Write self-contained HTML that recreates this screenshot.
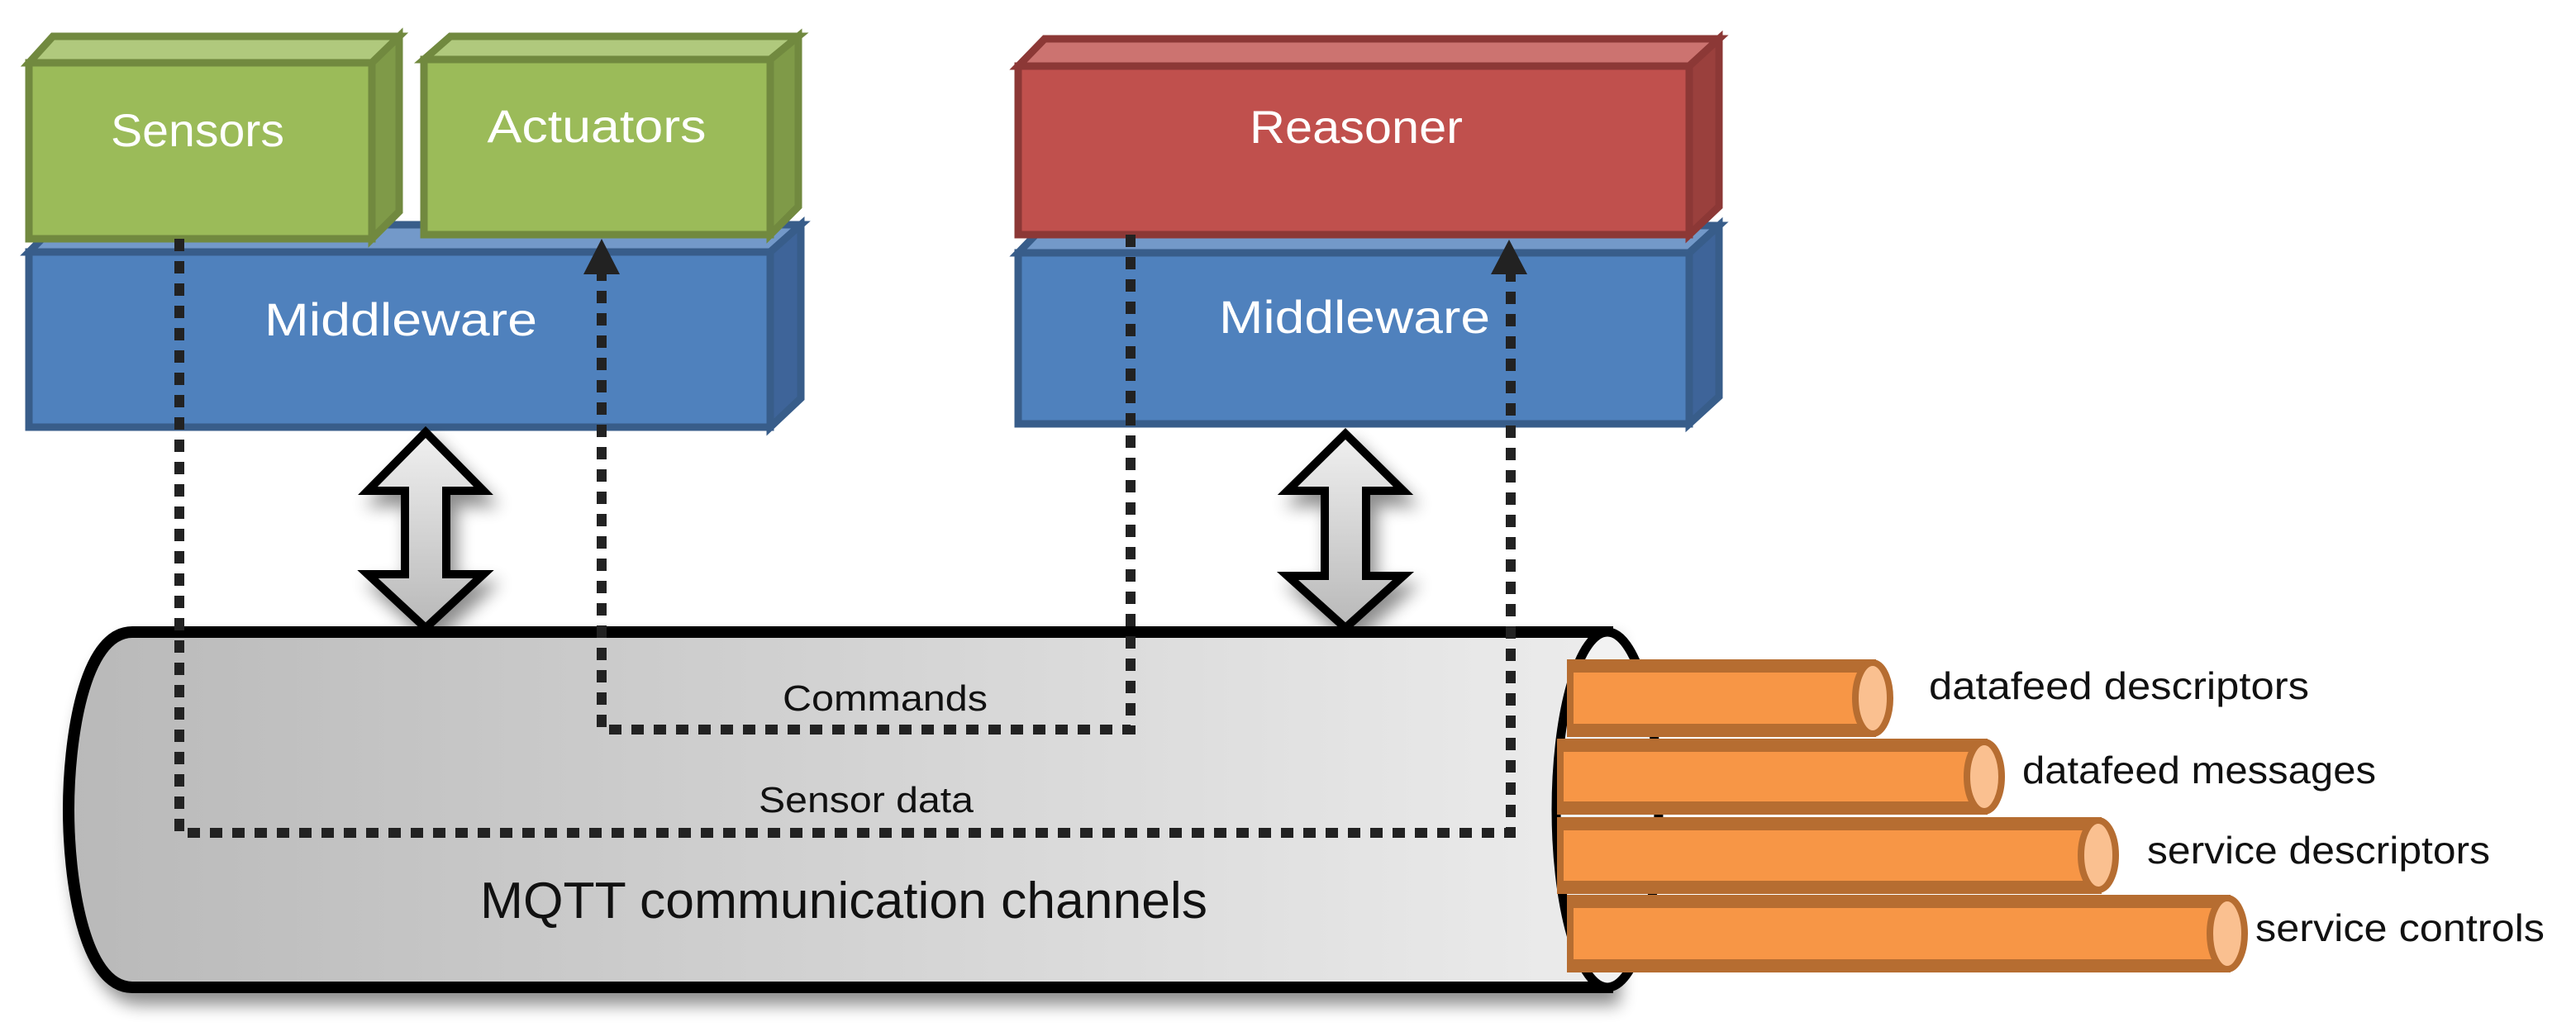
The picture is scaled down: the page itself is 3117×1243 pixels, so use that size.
<!DOCTYPE html>
<html><head><meta charset="utf-8"><style>html,body{margin:0;padding:0;background:#fff}svg{display:block}</style></head>
<body>
<svg width="3117" height="1243" viewBox="0 0 3117 1243" xmlns="http://www.w3.org/2000/svg" font-family="Liberation Sans, sans-serif">
<defs>
<linearGradient id="cyl" x1="0" x2="1" y1="0" y2="0"><stop offset="0" stop-color="#b9b9b9"/><stop offset="1" stop-color="#ececec"/></linearGradient>
<linearGradient id="arr" x1="0" x2="0" y1="0" y2="1"><stop offset="0" stop-color="#f0f0f0"/><stop offset="1" stop-color="#b8b8b8"/></linearGradient>
<filter id="sh" x="-10%" y="-10%" width="130%" height="130%"><feGaussianBlur in="SourceAlpha" stdDeviation="10"/><feOffset dx="8" dy="14"/><feComponentTransfer><feFuncA type="linear" slope="0.45"/></feComponentTransfer><feMerge><feMergeNode/><feMergeNode in="SourceGraphic"/></feMerge></filter>
</defs>

<g stroke-width="9" stroke-linejoin="miter">
<polygon points="35,305 68,272 969,272 932,305" fill="#7399c9" stroke="#385d8a"/>
<polygon points="932,305 969,272 969,482 932,517" fill="#3e6499" stroke="#385d8a"/>
<rect x="35" y="305" width="897" height="212" fill="#4f81bd" stroke="#385d8a"/>
<polygon points="35,76 64,44 483,44 450,76" fill="#b0c97d" stroke="#71893f"/>
<polygon points="450,76 483,44 483,256 450,289" fill="#7f9a48" stroke="#71893f"/>
<rect x="35" y="76" width="415" height="213" fill="#9bbb59" stroke="#71893f"/>
<polygon points="513,72 545,44 966,44 932,72" fill="#b0c97d" stroke="#71893f"/>
<polygon points="932,72 966,44 966,250 932,284" fill="#7f9a48" stroke="#71893f"/>
<rect x="513" y="72" width="419" height="212" fill="#9bbb59" stroke="#71893f"/>
<polygon points="1232,306 1264,273 2080,273 2044,306" fill="#7399c9" stroke="#385d8a"/>
<polygon points="2044,306 2080,273 2080,480 2044,513" fill="#3e6499" stroke="#385d8a"/>
<rect x="1232" y="306" width="812" height="207" fill="#4f81bd" stroke="#385d8a"/>
<polygon points="1232,80 1264,47 2080,47 2044,80" fill="#cc7370" stroke="#8c3836"/>
<polygon points="2044,80 2080,47 2080,250 2044,284" fill="#9a403d" stroke="#8c3836"/>
<rect x="1232" y="80" width="812" height="204" fill="#c0504d" stroke="#8c3836"/>
</g>
<g fill="#fff" font-size="56" text-anchor="middle">
<text x="239" y="177" textLength="210" lengthAdjust="spacingAndGlyphs">Sensors</text>
<text x="722" y="172" textLength="265" lengthAdjust="spacingAndGlyphs">Actuators</text>
<text x="485" y="406" textLength="330" lengthAdjust="spacingAndGlyphs">Middleware</text>
<text x="1641" y="173" textLength="258" lengthAdjust="spacingAndGlyphs">Reasoner</text>
<text x="1639" y="403" textLength="328" lengthAdjust="spacingAndGlyphs">Middleware</text>
</g>

<g filter="url(#sh)" fill="url(#arr)" stroke="#000" stroke-width="10" stroke-linejoin="miter">
<polygon points="515,523 585,594 540,594 540,695 585,695 515,760 445,695 490,695 490,594 445,594"/>
<polygon points="1628,525 1698,594 1653,594 1653,697 1698,697 1628,760 1558,697 1603,697 1603,594 1558,594"/>
</g>

<g filter="url(#sh)">
<path d="M160,765 H1945 V1195 H160 C100,1195 83,1060 83,980 C83,900 100,765 160,765 Z" fill="url(#cyl)" stroke="#000" stroke-width="14"/>
</g>
<ellipse cx="1945" cy="980" rx="62" ry="215" fill="#f2f2f2" stroke="#000" stroke-width="11"/>

<g stroke="#b66d31" stroke-width="8">
<rect x="1900" y="802" width="366" height="86" fill="#f79646"/>
<rect x="1888" y="898" width="513" height="84" fill="#f79646"/>
<rect x="1888" y="993" width="651" height="85" fill="#f79646"/>
<rect x="1900" y="1087" width="795" height="86" fill="#f79646"/>
</g>
<g fill="#b66d31">
<rect x="1900" y="802" width="366" height="12"/><rect x="1900" y="876" width="366" height="12"/>
<rect x="1888" y="898" width="513" height="12"/><rect x="1888" y="970" width="513" height="12"/>
<rect x="1888" y="993" width="651" height="12"/><rect x="1888" y="1066" width="651" height="12"/>
<rect x="1900" y="1087" width="795" height="12"/><rect x="1900" y="1161" width="795" height="12"/>
</g>
<g stroke="#b66d31" stroke-width="8" fill="#fac090">
<ellipse cx="2266" cy="845" rx="21" ry="43"/>
<ellipse cx="2401" cy="940" rx="21" ry="42"/>
<ellipse cx="2539" cy="1035" rx="21" ry="42"/>
<ellipse cx="2695" cy="1130" rx="21" ry="43"/>
</g>
<g font-size="46" fill="#111">
<text x="2334" y="846" textLength="460" lengthAdjust="spacingAndGlyphs">datafeed descriptors</text>
<text x="2447" y="948" textLength="428" lengthAdjust="spacingAndGlyphs">datafeed messages</text>
<text x="2598" y="1045" textLength="415" lengthAdjust="spacingAndGlyphs">service descriptors</text>
<text x="2729" y="1139" textLength="350" lengthAdjust="spacingAndGlyphs">service controls</text>
</g>

<g fill="none" stroke="#222" stroke-width="12" stroke-dasharray="15 12">
<path d="M217,289 V1008 H1828 V326"/>
<path d="M1368,284 V883 H728 V326"/>
</g>
<polygon points="728,289 750,332 706,332" fill="#222"/>
<polygon points="1826,290 1848,332 1804,332" fill="#222"/>

<g fill="#111" text-anchor="middle">
<text x="1071" y="860" font-size="44" textLength="248" lengthAdjust="spacingAndGlyphs">Commands</text>
<text x="1048" y="983" font-size="44" textLength="260" lengthAdjust="spacingAndGlyphs">Sensor data</text>
<text x="1021" y="1111" font-size="62" textLength="880" lengthAdjust="spacingAndGlyphs">MQTT communication channels</text>
</g>
</svg>
</body></html>
